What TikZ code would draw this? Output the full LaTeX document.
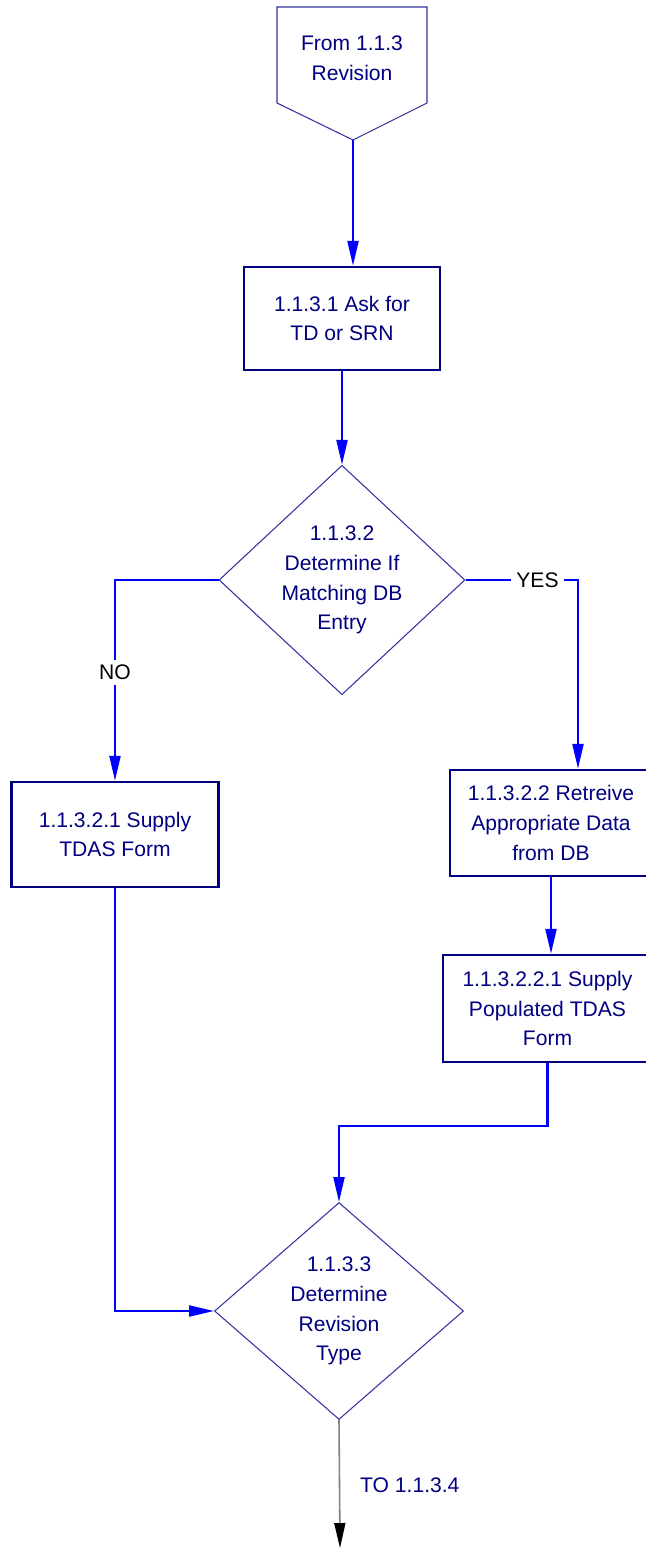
\documentclass[tikz,border=0pt]{standalone}
\usepackage{fontspec}
\setmainfont{Liberation Sans}
\usepackage{xcolor}
\usetikzlibrary{positioning, arrows.meta, calc, shapes.geometric}
\definecolor{boxblue}{RGB}{0,0,128}
\definecolor{flowblue}{RGB}{0,0,255}
\definecolor{edgeblue}{RGB}{50,50,160}

\begin{document}
\begin{tikzpicture}[x=0.02cm, y=-0.02cm,
  every node/.style={font=\fontsize{12}{17}\selectfont, align=center, text=boxblue}]
  \tikzset{
    procbox/.style={draw=boxblue, line width=1.4pt, inner sep=0pt},
    decision/.style={diamond, draw=edgeblue, line width=0.6pt, inner sep=0pt,
      minimum height=4.34cm},
    flow/.style={draw=flowblue, line width=1.3pt, -{Triangle[length=0.5cm, width=0.22cm]}},
    exitflow/.style={draw=gray, line width=0.9pt, -{Triangle[length=0.5cm, width=0.22cm, color=black]}},
    answer/.style={text=black, fill=white, inner sep=3pt},
  }
  \useasboundingbox (0,0) rectangle (645,1550);
  %% off-page connector at the top
  \draw[draw=edgeblue, line width=0.6pt] (277,7) -- (427,7) -- (427,103) -- (353,140) -- (277,103) -- cycle;
  \node (from) at (352,58) {From 1.1.3\\Revision};
  \coordinate (fromtip) at (353,140);
  %% main column
  \node[procbox, minimum width=3.92cm, minimum height=2.06cm] (ask) at (342,318.5) {1.1.3.1 Ask for\\TD or SRN};
  \node[decision, minimum width=4.92cm] (match) at (342,580) {1.1.3.2\\Determine If\\Matching DB\\Entry};
  %% NO branch
  \node[procbox, minimum width=4.14cm, minimum height=2.1cm] (supply) at (115,834.5) {1.1.3.2.1 Supply\\TDAS Form};
  %% YES branch (boxes run off the right edge)
  \node[procbox, minimum width=4.04cm, minimum height=2.12cm] (retrieve) at (551,823) {1.1.3.2.2 Retreive\\Appropriate Data\\from DB};
  \node[procbox, minimum width=4.18cm, minimum height=2.14cm] (populated) at (547.5,1008.5) {1.1.3.2.2.1 Supply\\Populated TDAS\\Form};
  %% join
  \node[decision, minimum width=4.98cm] (revtype) at (339,1311) {1.1.3.3\\Determine\\Revision\\Type};
  \coordinate (exitend) at (340,1548);
  \node[anchor=west] (toref) at (354,1485) {TO 1.1.3.4};

  \draw[flow] (fromtip) -- (fromtip |- ask.north);
  \draw[flow] (ask.south) -- (match.north);
  \draw[flow] (match.west) -| (supply.north) node[answer, pos=0.73] {NO};
  \draw[flow] (match.east) -| ([xshift=0.54cm]retrieve.north) node[answer, pos=0.32] {YES};
  \draw[flow] (retrieve.south) -- (retrieve.south |- populated.north);
  \draw[flow] (populated.south) -- ++(0,63) -| (revtype.north);
  \draw[flow] (supply.south) |- (revtype.west);
  \draw[exitflow] (revtype.south) -- (exitend);
\end{tikzpicture}
\end{document}
